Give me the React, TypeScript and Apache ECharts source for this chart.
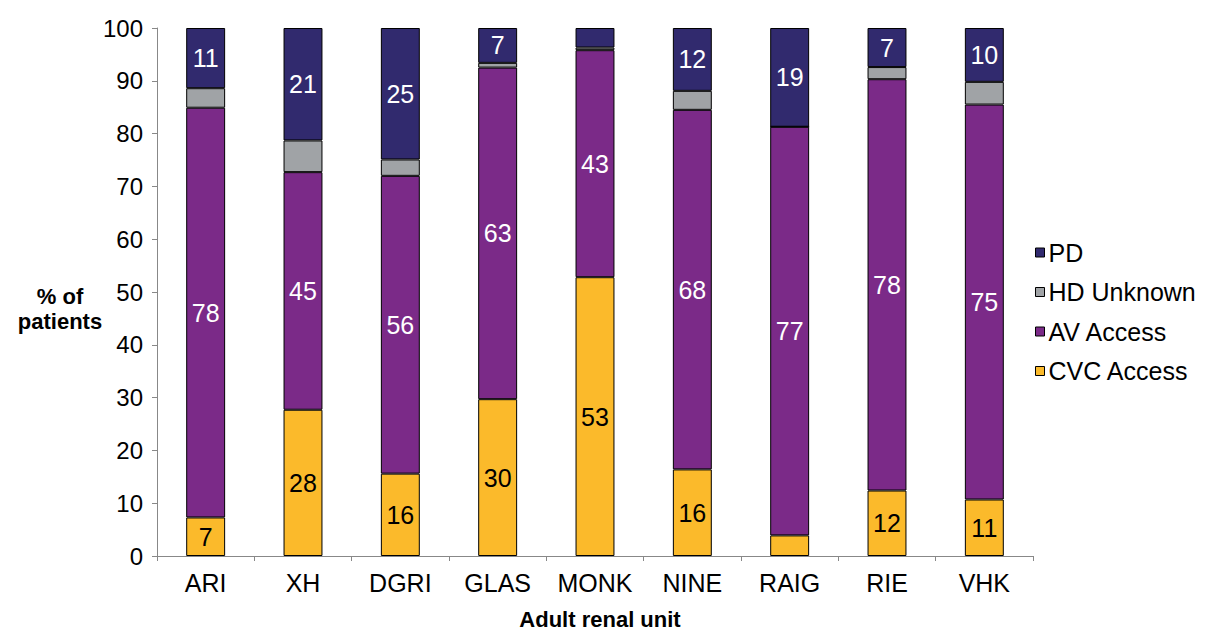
import React, { useEffect, useRef } from "react";
import * as echarts from "echarts";

// Adult renal units and the share of patients (%) on each treatment modality
const units = ["ARI", "XH", "DGRI", "GLAS", "MONK", "NINE", "RAIG", "RIE", "VHK"];
const cvcAccess = [7.3, 27.7, 15.6, 29.7, 52.8, 16.4, 3.9, 12.4, 10.7];
const avAccess = [77.6, 45.0, 56.4, 62.8, 43.0, 68.1, 77.4, 77.9, 74.8];
const hdUnknown = [3.7, 6.0, 3.1, 0.9, 0.5, 3.6, 0.0, 2.3, 4.3];
const pd = [11.4, 21.3, 24.9, 6.6, 3.7, 11.9, 18.7, 7.4, 10.2];
const yTicks = [0, 10, 20, 30, 40, 50, 60, 70, 80, 90, 100];

const FONT = "'Liberation Sans', Arial, sans-serif";

// Segments under 5% are left unlabelled
const labelFmt = (p: any) => (p.value >= 5 ? String(Math.round(p.value)) : "");

const boldText = (text: string, x: number, y: number, fontSize: number) => ({
  type: "text",
  x,
  y,
  style: {
    text,
    fontFamily: FONT,
    fontSize,
    fontWeight: "bold",
    fill: "#000",
    align: "center",
    verticalAlign: "middle",
  },
});

export default function App() {
  const ref = useRef<HTMLDivElement>(null);

  useEffect(() => {
    if (!ref.current) return;
    const chart = echarts.init(ref.current, null, { renderer: "svg" });

    const seg = (name: string, data: number[], color: string, textColor: string | null) => ({
      name,
      type: "bar",
      stack: "total",
      data,
      barWidth: "40%",
      itemStyle: { color, borderColor: "#000", borderWidth: 1 },
      label: textColor
        ? {
            show: true,
            position: "inside",
            formatter: labelFmt,
            color: textColor,
            fontFamily: FONT,
            fontSize: 25,
          }
        : { show: false },
      emphasis: { disabled: true },
    });

    chart.setOption({
      animation: false,
      textStyle: { fontFamily: FONT },
      grid: { left: 157, right: 174, top: 28, bottom: 75, containLabel: false },
      legend: {
        orient: "vertical",
        left: 1035,
        top: 240,
        padding: 0,
        itemWidth: 9,
        itemHeight: 9,
        itemGap: 14.5,
        icon: "rect",
        data: ["PD", "HD Unknown", "AV Access", "CVC Access"],
        textStyle: { fontFamily: FONT, fontSize: 25, color: "#000", padding: [0, 0, 0, -1] },
        itemStyle: { borderColor: "#000", borderWidth: 1 },
        selectedMode: false,
      },
      xAxis: {
        type: "category",
        data: units,
        axisLine: { lineStyle: { color: "#888", width: 1 } },
        axisTick: { show: true, length: 5, lineStyle: { color: "#888" } },
        axisLabel: { color: "#000", fontSize: 25, fontFamily: FONT, margin: 14, interval: 0 },
      },
      yAxis: {
        type: "value",
        min: yTicks[0],
        max: yTicks[yTicks.length - 1],
        interval: yTicks[1] - yTicks[0],
        splitLine: { show: false },
        axisLine: { show: true, lineStyle: { color: "#888", width: 1 } },
        axisTick: { show: true, length: 5, lineStyle: { color: "#888" } },
        axisLabel: { color: "#000", fontSize: 24, fontFamily: FONT, margin: 14 },
      },
      graphic: [
        boldText("% of", 60, 296, 22),
        boldText("patients", 60, 321, 22),
        boldText("Adult renal unit", 600, 619, 22),
      ],
      series: [
        seg("CVC Access", cvcAccess, "#FBBA2B", "#000"),
        seg("AV Access", avAccess, "#7B2A88", "#fff"),
        seg("HD Unknown", hdUnknown, "#A0A3A6", null),
        seg("PD", pd, "#312A6E", "#fff"),
      ],
    });

    return () => chart.dispose();
  }, []);

  return (
    <div
      ref={ref}
      style={{ position: "fixed", left: 0, top: 0, width: 1207, height: 631, background: "#fff" }}
    />
  );
}
